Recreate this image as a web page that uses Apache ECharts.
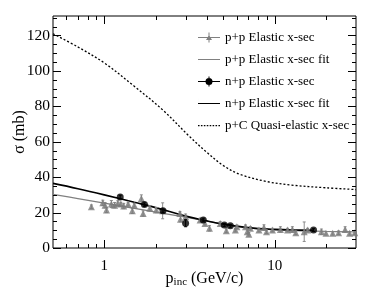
<!DOCTYPE html>
<html><head><meta charset="utf-8">
<script src="https://cdn.jsdelivr.net/npm/echarts@6/dist/echarts.min.js"></script>
<style>html,body{margin:0;padding:0;background:#fff}#c{width:374px;height:296px}</style>
</head><body><div id="c"></div>
<script>
// p+p elastic data: [p (GeV/c), sigma (mb), error]
const ppData = [
  [0.84,23.3,1],[0.98,25.5,1.5],[1.01,24.2,1.5],[1.03,21.5,1.5],[1.10,24.8,2],
  [1.15,24.2,1.5],[1.20,25.2,1.5],[1.25,24.8,1],[1.30,23.7,1.5],[1.38,24.8,1],
  [1.46,21.0,1.5],[1.50,24.2,1],[1.65,28.0,2],[1.69,19.5,1.5],[1.85,22.4,1.5],
  [2.02,21.4,1.5],[2.20,21.0,4.5],[2.78,19.5,1],[2.80,16.3,1.5],[3.00,17.7,1.5],
  [3.65,15.8,1],[3.90,13.9,1],[4.14,11.1,1.5],[4.79,13.9,1],[5.20,9.8,1],
  [5.88,10.1,1],[6.00,12.0,1],[6.74,12.0,1],[6.90,9.2,1],[7.05,7.7,1],
  [7.20,11.1,1],[8.08,10.1,1],[8.65,11.6,1.5],[8.95,9.2,1],[9.70,10.1,1],
  [10.8,10.5,1.5],[11.9,10.1,1],[12.7,10.5,1.5],[13.3,8.6,1],[14.9,9.2,5.5],
  [15.6,10.1,1],[18.8,9.2,1.5],[20.0,8.3,1],[21.9,8.3,1],[23.7,8.6,1],
  [25.9,10.5,1.5],[27.5,8.3,1],[29.5,8.6,1]
];
// n+p elastic data
const npData = [
  [1.24,28.8,1],[1.72,24.5,1],[2.21,21.0,1],[3.00,14.0,2],[3.81,15.8,1],
  [5.06,13.0,0.8],[5.49,12.5,0.8],[16.9,10.1,0.8]
];
const ppFit = [[0.5,30.3],[0.7,27.9],[1,25.3],[1.5,22.4],[2,20.3],[3,17.4],[4,15.2],[5,13.4],[7,11.4],[10,10.3],[15,9.7],[20,9.4],[30,9.1]];
const npFit = [[0.5,36.5],[0.7,33.5],[1,30],[1.5,25.8],[2,22.8],[3,18],[4,15.3],[5,13.5],[7,11.5],[10,10.5],[14,10.1],[17,10]];
const pcQuasi = [[0.5,121],[0.7,113.5],[1,104.5],[1.47,92],[2.2,78],[3.16,63],[4,54],[5,46.5],[6.3,41.5],[9,37.5],[12.6,35.5],[20,34],[30,33]];

const seriesNames = ['p+p Elastic x-sec','p+p Elastic x-sec fit','n+p Elastic x-sec','n+p Elastic x-sec fit','p+C Quasi-elastic x-sec'];
const xLabelValues = [1,10];
const xMinorTicks = [0.6,0.7,0.8,0.9,2,3,4,5,6,7,8,9,20];
const yMajorTicks = [0,20,40,60,80,100,120];
const yMinorTicks = [5,10,15,25,30,35,45,50,55,65,70,75,85,90,95,105,110,115,125,130];

const X_MIN = 0.5, X_MAX = 30, Y_MIN = 0, Y_MAX = 131;
const FONT = 'Liberation Serif';

const tickData = [];
xLabelValues.forEach(v => tickData.push([v, 1, 8, 0]));
xMinorTicks.forEach(v => tickData.push([v, 1, 4, 0]));
yMajorTicks.forEach(v => tickData.push([1, v, 8, 1]));
yMinorTicks.forEach(v => tickData.push([1, v, 4, 1]));

function tickRender(params, api) {
  const v0 = api.value(0), v1 = api.value(1), len = api.value(2), kind = api.value(3);
  const st = {stroke:'#000', lineWidth:1};
  if (kind === 0) {
    const b = api.coord([v0, Y_MIN]), t = api.coord([v0, Y_MAX]);
    const x = Math.round(b[0]) + 0.5;
    return {type:'group', children:[
      {type:'line', shape:{x1:x,y1:b[1],x2:x,y2:b[1]-len}, style:st},
      {type:'line', shape:{x1:x,y1:t[1],x2:x,y2:t[1]+len}, style:st}
    ]};
  } else {
    const l = api.coord([X_MIN, v1]), r = api.coord([X_MAX, v1]);
    const y = Math.round(l[1]) + 0.5;
    return {type:'group', children:[
      {type:'line', shape:{x1:l[0],y1:y,x2:l[0]+len,y2:y}, style:st},
      {type:'line', shape:{x1:r[0],y1:y,x2:r[0]-len,y2:y}, style:st}
    ]};
  }
}

function errRender(color) {
  return function(params, api) {
    const x = api.value(0), y = api.value(1), e = api.value(2);
    const lo = api.coord([x, y - e]), hi = api.coord([x, y + e]);
    const st = {stroke: color, lineWidth: 1};
    return {type:'group', children:[
      {type:'line', shape:{x1:lo[0],y1:lo[1],x2:hi[0],y2:hi[1]}, style:st},
      {type:'line', shape:{x1:lo[0]-1.5,y1:lo[1],x2:lo[0]+1.5,y2:lo[1]}, style:st},
      {type:'line', shape:{x1:hi[0]-1.5,y1:hi[1],x2:hi[0]+1.5,y2:hi[1]}, style:st}
    ]};
  };
}

const lineIcon = 'path://M0,4.4h22v1.2h-22z M0,0h0.01v10h-0.01z';
let dotted = 'path://M0,0h0.01v10h-0.01z';
for (let i = 0; i < 22; i += 3) dotted += ' M' + i + ',4.4h1.6v1.3h-1.6z';

const chart = echarts.init(document.getElementById('c'), null, {renderer:'canvas'});
chart.setOption({
  animation: false,
  backgroundColor: '#fff',
  grid: {left:53, right:18, top:16, bottom:48, containLabel:false, outerBoundsMode:'none',
         show:true, borderColor:'#000', borderWidth:1, backgroundColor:'transparent'},
  legend: {
    orient:'vertical', left:193, top:26, itemWidth:22, itemHeight:10, itemGap:9,
    textStyle:{fontFamily:FONT, fontSize:13, color:'#000', lineHeight:13},
    data: [
      {name:seriesNames[0], icon:'path://M0,4.5h22v1h-22z M10.5,0h1v10h-1z M8,7.5L11,2.5L14,7.5z'},
      {name:seriesNames[1], icon:lineIcon},
      {name:seriesNames[2], icon:'path://M0,4.5h22v1h-22z M10.5,0h1v10h-1z M14.5,5a3.5,3.5 0 1 1 -7,0a3.5,3.5 0 1 1 7,0z'},
      {name:seriesNames[3], icon:lineIcon},
      {name:seriesNames[4], icon:dotted}
    ]
  },
  xAxis: {
    type:'log', logBase:10, min:X_MIN, max:X_MAX,
    axisLine:{show:false}, axisTick:{show:false}, splitLine:{show:false},
    axisLabel:{
      fontFamily:FONT, fontSize:15, color:'#000', margin:11,
      formatter: function(v){ return xLabelValues.some(t => Math.abs(t - v) < 1e-6) ? String(Math.round(v)) : ''; }
    },
    name:'{p|p}{s|inc}{p| (GeV/c)}', nameLocation:'middle', nameGap:21, nameMoveOverlap:false,
    nameTextStyle:{rich:{
      p:{fontFamily:FONT, fontSize:16, color:'#000'},
      s:{fontFamily:FONT, fontSize:11, color:'#000', verticalAlign:'bottom', padding:[8,0,0,0]}
    }}
  },
  yAxis: {
    type:'value', min:Y_MIN, max:Y_MAX, interval:20,
    axisLine:{show:false}, axisTick:{show:false}, splitLine:{show:false},
    axisLabel:{
      fontFamily:FONT, fontSize:15.5, color:'#000', margin:3,
      formatter: function(v){ return yMajorTicks.indexOf(v) >= 0 ? String(v) : ''; }
    },
    name:'σ (mb)', nameLocation:'middle', nameGap:25, nameRotate:90, nameMoveOverlap:false,
    nameTextStyle:{fontFamily:FONT, fontSize:16, color:'#000'}
  },
  series: [
    {type:'custom', name:'ticks', silent:true, data:tickData, encode:{x:0,y:1}, renderItem:tickRender, z:10, clip:false},
    {type:'line', name:seriesNames[4], data:pcQuasi, smooth:0.35, symbol:'none',
     lineStyle:{color:'#000', width:1.3, type:[2,2]}, itemStyle:{color:'#000'}, z:3},
    {type:'line', name:seriesNames[1], data:ppFit, smooth:0.4, symbol:'none',
     lineStyle:{color:'#808080', width:1.3}, itemStyle:{color:'#808080'}, z:3},
    {type:'line', name:seriesNames[3], data:npFit, smooth:0.4, symbol:'none',
     lineStyle:{color:'#000', width:1.6}, itemStyle:{color:'#000'}, z:4},
    {type:'custom', name:seriesNames[0], data:ppData, encode:{x:0,y:1}, renderItem:errRender('#8c8c8c'), itemStyle:{color:'#808080'}, z:5},
    {type:'scatter', name:seriesNames[0], data:ppData.map(d => [d[0], d[1]]), symbol:'triangle', symbolSize:7,
     itemStyle:{color:'#7a7a7a'}, z:6},
    {type:'custom', name:seriesNames[2], data:npData, encode:{x:0,y:1}, renderItem:errRender('#000'), itemStyle:{color:'#000'}, z:7},
    {type:'scatter', name:seriesNames[2], data:npData.map(d => [d[0], d[1]]), symbol:'circle', symbolSize:7,
     itemStyle:{color:'#000'}, z:8}
  ]
});
</script></body></html>
